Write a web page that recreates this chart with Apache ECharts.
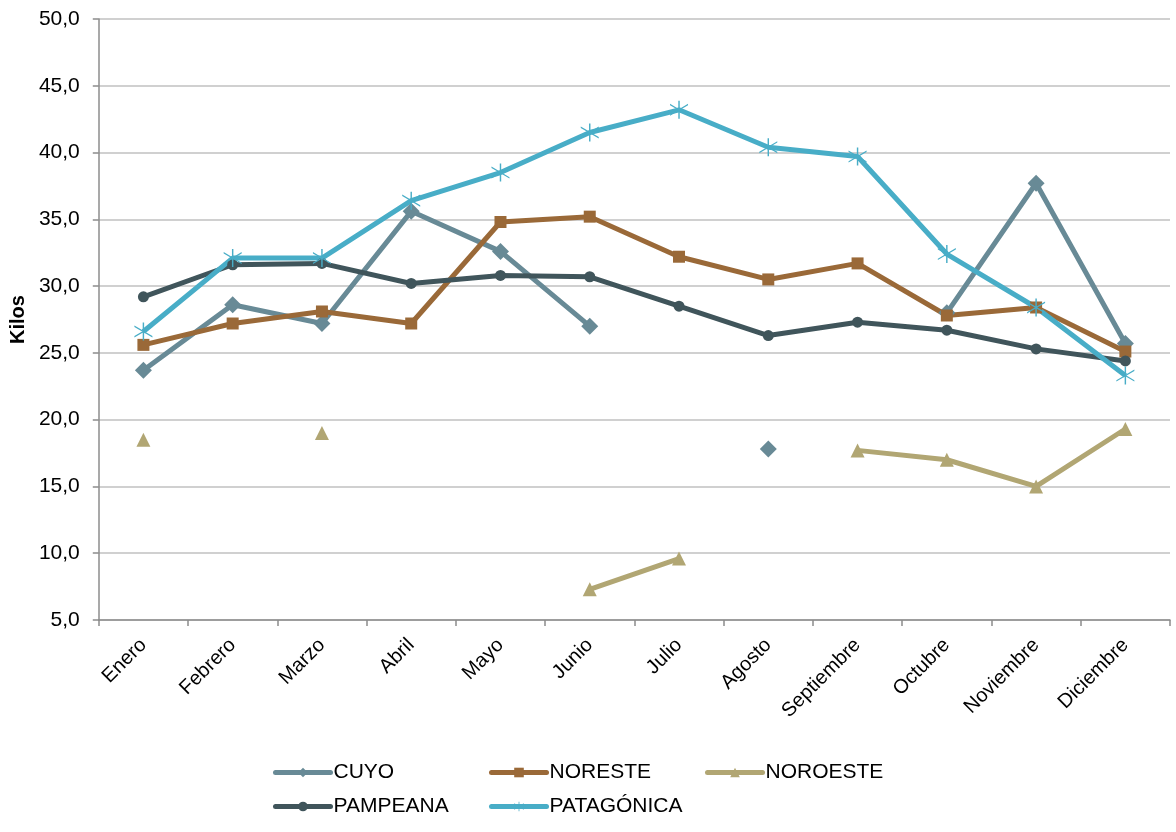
<!DOCTYPE html>
<html>
<head>
<meta charset="utf-8">
<script src="https://cdn.jsdelivr.net/npm/echarts@6/dist/echarts.min.js"></script>
<style>
html,body{margin:0;padding:0;background:#fff;}
#chart{width:1176px;height:832px;}
</style>
</head>
<body>
<div id="chart"></div>
<script>
const categories = ['Enero','Febrero','Marzo','Abril','Mayo','Junio','Julio','Agosto','Septiembre','Octubre','Noviembre','Diciembre'];
const cuyo      = [23.7, 28.6, 27.2, 35.6, 32.6, 27.0, null, 17.8, null, 28.0, 37.7, 25.7];
const noreste   = [25.6, 27.2, 28.1, 27.2, 34.8, 35.2, 32.2, 30.5, 31.7, 27.8, 28.4, 25.1];
const noroeste  = [18.5, null, 19.0, null, null, 7.3, 9.6, null, 17.7, 17.0, 15.0, 19.3];
const pampeana  = [29.2, 31.6, 31.7, 30.2, 30.8, 30.7, 28.5, 26.3, 27.3, 26.7, 25.3, 24.4];
const patagonica= [26.6, 32.1, 32.1, 36.4, 38.5, 41.5, 43.2, 40.4, 39.7, 32.4, 28.4, 23.3];
const yTicks = {min: 5, max: 50, interval: 5};
const seriesNames = ['CUYO','NORESTE','NOROESTE','PAMPEANA','PATAGÓNICA'];

const asterisk = 'path://M9.2,0L10.8,0L10.8,20L9.2,20Z M0,3.3L20,15.1L20,16.7L0,4.9Z M0,15.1L20,3.3L20,4.9L0,16.7Z';

const styles = [
  {color:'#688a96', symbol:'diamond', size:17},
  {color:'#9a6938', symbol:'rect', size:12},
  {color:'#b1a673', symbol:'triangle', size:14},
  {color:'#40555b', symbol:'circle', size:11},
  {color:'#48adc7', symbol:asterisk, size:18}
];
const dataArr = [cuyo, noreste, noroeste, pampeana, patagonica];

const series = seriesNames.map((n,i)=>({
  name:n, type:'line', data:dataArr[i],
  symbol:styles[i].symbol, symbolSize:styles[i].size,
  showSymbol:true, showAllSymbol:true, connectNulls:false,
  itemStyle:{color:styles[i].color},
  lineStyle:{color:styles[i].color, width:5},
  emphasis:{disabled:true}, animation:false
}));

const legendPos = [
  {left:273, top:762},{left:489, top:762},{left:705, top:762},
  {left:273, top:796},{left:489, top:796}
];
const legends = seriesNames.map((n,i)=>({
  data:[n], left:legendPos[i].left, top:legendPos[i].top,
  itemWidth:55, itemHeight:12, itemGap:0,
  lineStyle:{width:5, cap:'round'},
  textStyle:{fontFamily:'Liberation Sans', fontSize:21, color:'#000', padding:[0,0,0,-2]},
  padding:0
}));

const chart = echarts.init(document.getElementById('chart'));
chart.setOption({
  animation:false,
  backgroundColor:'#fff',
  legend:legends,
  grid:{left:98, right:6, top:19, bottom:212, containLabel:false},
  xAxis:{
    type:'category', data:categories, boundaryGap:true,
    axisLine:{lineStyle:{color:'#8c8c8c', width:1.5}},
    axisTick:{show:true, length:6, lineStyle:{color:'#8c8c8c', width:1.5}},
    axisLabel:{rotate:45, fontFamily:'Liberation Sans', fontSize:20, color:'#000', margin:22, interval:0}
  },
  yAxis:{
    type:'value', min:yTicks.min, max:yTicks.max, interval:yTicks.interval,
    name:'Kilos', nameLocation:'middle', nameRotate:90, nameGap:62,
    nameTextStyle:{fontFamily:'Liberation Sans', fontSize:20, fontWeight:'bold', color:'#000'},
    axisLine:{show:true, lineStyle:{color:'#8c8c8c', width:1.5}},
    axisTick:{show:true, length:6, lineStyle:{color:'#8c8c8c', width:1.5}},
    splitLine:{show:true, lineStyle:{color:'#c0c0c0', width:1.5}},
    axisLabel:{fontFamily:'Liberation Sans', fontSize:21, color:'#000', margin:19,
      formatter:v=>v.toFixed(1).replace('.',',')}
  },
  series:series
});
</script>
</body>
</html>
